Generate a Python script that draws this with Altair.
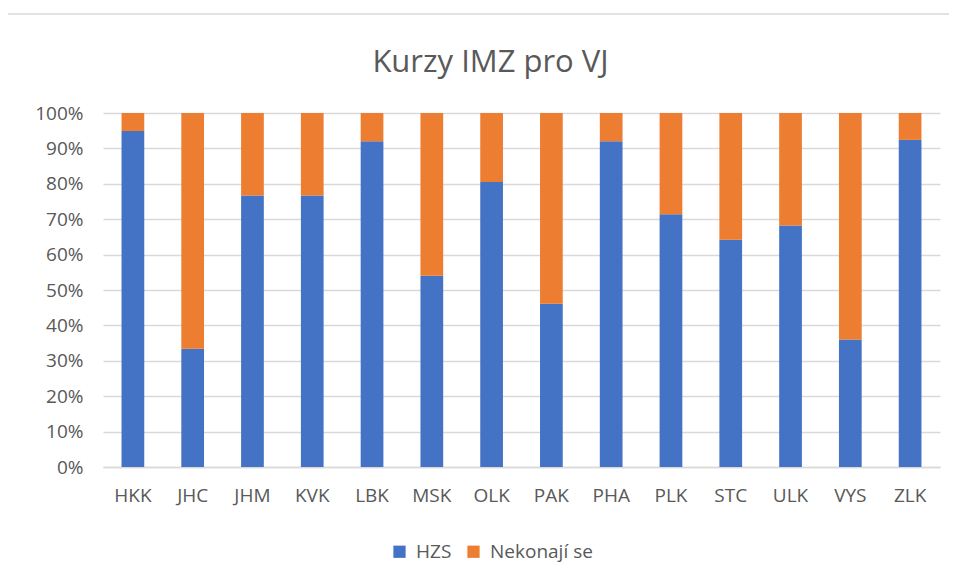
import altair as alt
import pandas as pd

regions = ["HKK", "JHC", "JHM", "KVK", "LBK", "MSK", "OLK", "PAK", "PHA", "PLK", "STC", "ULK", "VYS", "ZLK"]
hzs = [94.9, 33.4, 76.7, 76.7, 92.0, 54.0, 80.5, 46.1, 92.0, 71.4, 64.2, 68.2, 36.0, 92.4]
nekonaji = [5.1, 66.6, 23.3, 23.3, 8.0, 46.0, 19.5, 53.9, 8.0, 28.6, 35.8, 31.8, 64.0, 7.6]
series = ["HZS", "Nekonají se"]
colors = ["#4472C4", "#ED7D31"]

rows = []
for r, a, b in zip(regions, hzs, nekonaji):
    rows.append({"kraj": r, "serie": series[0], "hodnota": a / 100, "poradi": 0})
    rows.append({"kraj": r, "serie": series[1], "hodnota": b / 100, "poradi": 1})
df = pd.DataFrame(rows)

FONT = "Open Sans"
GRAY = "#595959"
LINE = "#D9D9D9"

bars = alt.Chart(df).mark_bar().encode(
    x=alt.X("kraj:N", sort=regions, title=None,
            scale=alt.Scale(paddingInner=0.62, paddingOuter=0.31),
            axis=alt.Axis(labelAngle=0, labelFont=FONT, labelFontSize=19, labelColor=GRAY,
                          labelPadding=19, ticks=False, domain=True, domainColor=LINE,
                          domainWidth=1.5)),
    y=alt.Y("hodnota:Q", stack="zero", title=None,
            scale=alt.Scale(domain=[0, 1], nice=False),
            axis=alt.Axis(format=".0%", values=[i / 10 for i in range(11)], labelFont=FONT,
                          labelFontSize=19, labelColor=GRAY, labelPadding=20, ticks=False,
                          domain=False, gridColor=LINE, gridWidth=1.5)),
    color=alt.Color("serie:N", scale=alt.Scale(domain=series, range=colors),
                    legend=alt.Legend(title=None, orient="none", direction="horizontal",
                                      legendX=287, legendY=429, symbolType="square",
                                      symbolSize=150, symbolStrokeWidth=0, labelFont=FONT,
                                      labelFontSize=19, labelColor=GRAY, columnPadding=12,
                                      labelOffset=7)),
    order=alt.Order("poradi:Q", sort="ascending"),
)

frame = alt.Chart(pd.DataFrame({"f": [0]})).mark_rect(
    fill=None, stroke=LINE, strokeWidth=1.5
).encode(x=alt.value(-97), x2=alt.value(860), y=alt.value(-99), y2=alt.value(480))

chart = alt.layer(frame, bars).properties(
    width=837,
    height=354,
    title=alt.TitleParams("Kurzy IMZ pro VJ", font=FONT, fontSize=31, fontWeight="normal",
                          color=GRAY, anchor="middle", offset=-66, dx=-31, frame="group"),
    autosize=alt.AutoSizeParams(type="none"),
    padding={"left": 95, "top": 105, "right": 9, "bottom": 109},
).configure(background="white").configure_view(stroke=None)

chart.save("out.html", embed_options={"renderer": "svg", "actions": False})
